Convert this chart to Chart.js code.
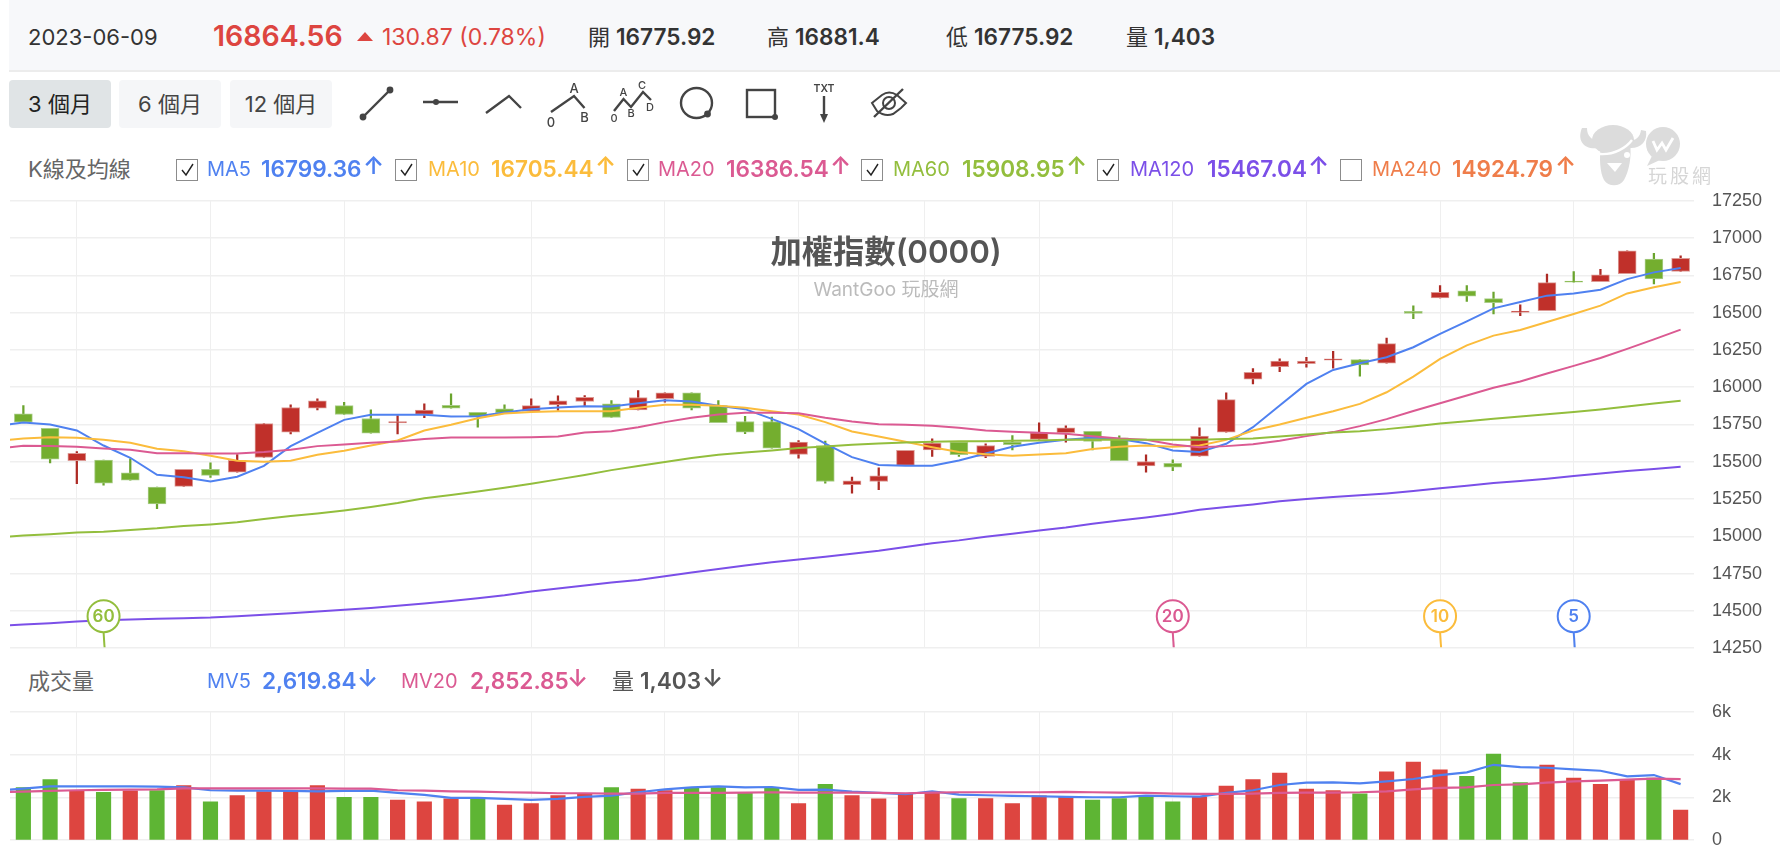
<!DOCTYPE html>
<html lang="zh-Hant">
<head>
<meta charset="UTF-8">
<title>加權指數(0000)</title>
<script src="https://cdn.jsdelivr.net/npm/chart.js"></script>
<style>
    html, body { margin: 0; padding: 0; background: #fff; overflow: hidden; }
    body { width: 1782px; height: 856px; position: relative; font-family: Inter, "Noto Sans CJK TC", sans-serif; color: #333; }
    canvas { position: absolute; display: block; }
    #priceChart { left: 10px; top: 172px; }
    #volumeChart { left: 10px; top: 683px; }
    .t { position: absolute; white-space: nowrap; line-height: 1; transform: translateY(-50%); }
    .b { font-weight: 600; }
    #topBar { position: absolute; left: 9px; top: 0; width: 1771px; height: 70px; background: #f7f8fa; border-bottom: 2px solid #ececec; }
    .btn { position: absolute; top: 80px; width: 102px; height: 48px; border-radius: 4px; background: #f5f6f8; color: #444; font-size: 22px; line-height: 48px; text-align: center; }
    .btn.on { background: #e0e4e6; color: #222; }
    .box { position: absolute; top: 159px; width: 20px; height: 20px; border: 1px solid #8c8c8c; box-sizing: content-box; background: #fff; }
    #overlay { position: absolute; left: 0; top: 0; pointer-events: none; }
    .ttl { position: absolute; left: 886px; transform: translate(-50%, -50%); white-space: nowrap; line-height: 1; }
</style>
</head>
<body>
<div id="topBar"></div>
<div class="t" style="left:28px;top:37px;font-size:22px;">2023-06-09</div>
<div class="t b" style="left:213px;top:36px;font-size:28.5px;color:#dd4540;">16864.56</div>
<div class="t" style="left:382px;top:37px;font-size:23px;color:#dd4540;">130.87 (0.78%)</div>
<div class="t" style="left:588px;top:37px;font-size:22px;">開</div>
<div class="t b" style="left:616px;top:37px;font-size:22.6px;">16775.92</div>
<div class="t" style="left:767px;top:37px;font-size:22px;">高</div>
<div class="t b" style="left:795px;top:37px;font-size:22.6px;">16881.4</div>
<div class="t" style="left:946px;top:37px;font-size:22px;">低</div>
<div class="t b" style="left:974px;top:37px;font-size:22.6px;">16775.92</div>
<div class="t" style="left:1126px;top:37px;font-size:22px;">量</div>
<div class="t b" style="left:1154px;top:37px;font-size:22.6px;">1,403</div>

<div class="btn on" style="left:9px;">3 個月</div>
<div class="btn" style="left:119px;">6 個月</div>
<div class="btn" style="left:230px;">12 個月</div>

<div class="t" style="left:28px;top:169px;font-size:22px;color:#666;">K線及均線</div>
<div class="t" style="left:28px;top:681px;font-size:22px;color:#666;">成交量</div>

<canvas id="priceChart" width="1772" height="505"></canvas>
<canvas id="volumeChart" width="1772" height="186"></canvas>

<div class="ttl b" style="top:253px;font-size:31.3px;color:#555;">加權指數(0000)</div>
<div class="ttl" style="top:289px;font-size:19px;color:#bbb;">WantGoo 玩股網</div>

<svg id="overlay" width="1782" height="856" xmlns="http://www.w3.org/2000/svg">
    <!-- drawing tools -->
    <g fill="none" stroke="#444" stroke-width="2.4">
        <path d="M363 117L390 90"/>
        <path d="M423 102H458"/>
        <path d="M486 113L509 96L521 108"/>
        <path d="M551 112L574 96L584.5 108"/>
        <path d="M614 111L623.5 99L631 107L643 92L651 100"/>
        <ellipse cx="696.5" cy="103" rx="15.5" ry="15"/>
        <rect x="747" y="90" width="28" height="27"/>
        <path d="M824 96V116"/>
        <path d="M874 117L903 89"/>
        <path d="M877 111L872 103L882 95Q889 90 897 95L906 103L901 108L893 114Q885 117 877 111Z" stroke-width="2"/>
        <circle cx="889" cy="103" r="6" stroke-width="2"/>
    </g>
    <g fill="#444">
        <circle cx="363" cy="117" r="3.4"/><circle cx="390" cy="90" r="3.4"/>
        <circle cx="436" cy="102" r="3"/>
        <circle cx="707.5" cy="114" r="3.4"/>
        <circle cx="775" cy="117" r="3"/>
        <path d="M820 114H828L824 123Z"/>
    </g>
    <g fill="#444" font-size="11" text-anchor="middle" font-family="Inter, sans-serif" font-weight="500">
        <text x="574" y="93" font-size="13">A</text><text x="551" y="127" font-size="13">0</text><text x="584.5" y="122" font-size="13">B</text>
        <text x="623.5" y="96">A</text><text x="631" y="117">B</text><text x="642" y="89">C</text><text x="650" y="111">D</text><text x="614" y="122">0</text>
        <text x="824" y="92" font-size="10.5" font-weight="600">TXT</text>
    </g>
    <!-- price change triangle -->
    <path d="M365 32L373 41H357Z" fill="#dd4540"/>
    <!-- site logo -->
    <g fill="#dcdcdc">
        <circle cx="1663" cy="144" r="17"/>
        <path d="M1652 156L1647 166L1660 160Z"/>
        <path d="M1582 128C1576 142 1586 152 1603 147L1603 140C1594 142 1587 138 1587 128Z"/>
        <path d="M1646 131C1648 143 1638 151 1624 147L1625 140C1633 142 1640 139 1641 130Z"/>
        <ellipse cx="1613" cy="140" rx="21" ry="15"/>
        <path d="M1601 145C1599 158 1600 173 1604 180C1608 187 1620 187 1624 180C1629 172 1632 155 1630 145Z"/>
    </g>
    <path d="M1600 154C1614 155 1626 148 1632 140" fill="none" stroke="#fff" stroke-width="2.4"/>
    <circle cx="1627" cy="155" r="3" fill="#fff"/>
    <path d="M1607 163H1622L1615 172Z" fill="#fff"/>
    <path d="M1653 141L1657 150L1662 143L1666 150L1673 138" fill="none" stroke="#fff" stroke-width="2.8"/>
</svg>
<div class="t" style="left:1648px;top:176px;font-size:19px;letter-spacing:3px;color:#d6d6d6;">玩股網</div>

<script>
    // Daily candles, oldest first
    const opens = [15821,15725,15507,15511,15426,15330,15335,15449,15431,15529,15699,15859,15877,15790,15761,15817,15879,15832,15855,15839,15882,15904,15888,15848,15924,15962,15877,15770,15770,15549,15609,15346,15368,15476,15580,15632,15536,15632,15650,15696,15705,15661,15473,15489,15538,15699,16054,16138,16158,16181,16185,16161,16509,16598,16647,16594,16502,16513,16712,16707,16761,16859,16775.92];
    const closes = [15766,15518,15556,15357,15377,15217,15449,15409,15509,15757,15864,15908,15817,15692,15770,15846,15859,15804,15828,15877,15908,15933,15797,15931,15962,15859,15763,15699,15592,15632,15368,15373,15406,15576,15625,15547,15609,15614,15694,15728,15636,15507,15502,15464,15672,15917,16100,16176,16176,16190,16149,16292,16495,16636,16611,16567,16511,16701,16705,16754,16915,16727,16864.56];
    const highs = [15877,15725,15569,15511,15520,15330,15449,15493,15549,15757,15882,15922,15899,15848,15810,15888,15955,15832,15882,15922,15942,15944,15911,15978,15962,15962,15911,15804,15799,15643,15638,15397,15460,15576,15654,15632,15621,15676,15761,15741,15705,15674,15547,15513,15728,15962,16125,16190,16201,16241,16185,16330,16545,16681,16681,16638,16553,16759,16776,16790,16915,16897,16881.4];
    const lows = [15766,15493,15353,15344,15377,15185,15335,15395,15431,15529,15687,15848,15817,15692,15687,15795,15859,15732,15828,15839,15844,15877,15797,15848,15900,15848,15763,15688,15592,15525,15357,15290,15313,15476,15536,15536,15527,15580,15650,15632,15580,15507,15431,15440,15538,15699,16022,16105,16134,16127,16074,16161,16460,16598,16576,16491,16480,16513,16705,16707,16761,16692,16775.92];

    // Moving averages: first value is the day before the visible window
    const ma5 = [15739,15763,15750,15710,15609,15527,15413,15397,15368,15400,15473,15605,15694,15781,15815,15815,15815,15804,15806,15830,15853,15864,15873,15871,15893,15913,15904,15875,15853,15788,15719,15621,15531,15478,15473,15473,15509,15556,15601,15627,15647,15661,15652,15625,15576,15565,15621,15732,15877,16022,16116,16161,16201,16268,16357,16442,16529,16571,16614,16629,16654,16725,16770,16799.36];
    const ma10 = [15638,15656,15665,15661,15647,15627,15587,15571,15540,15507,15500,15507,15547,15574,15609,15643,15710,15748,15792,15824,15833,15839,15839,15839,15862,15882,15882,15875,15862,15839,15817,15766,15703,15670,15634,15598,15565,15551,15540,15549,15558,15585,15600,15609,15600,15609,15647,15710,15750,15795,15839,15888,15966,16071,16190,16281,16346,16384,16437,16491,16547,16629,16670,16705.44];
    const ma20 = [15589,15607,15605,15600,15589,15580,15558,15558,15556,15556,15565,15580,15605,15616,15627,15636,15652,15663,15663,15663,15665,15670,15696,15705,15732,15766,15795,15817,15828,15828,15826,15795,15770,15752,15748,15741,15728,15710,15701,15694,15688,15672,15656,15647,15616,15598,15605,15618,15641,15672,15699,15739,15786,15841,15893,15944,15996,16038,16092,16143,16196,16257,16321,16386.54];
    const ma60 = [14994,15005,15014,15025,15031,15043,15054,15069,15080,15094,15116,15136,15154,15174,15197,15223,15255,15277,15301,15326,15353,15382,15411,15444,15471,15498,15525,15547,15563,15576,15592,15603,15614,15623,15630,15634,15638,15638,15641,15643,15647,15650,15647,15647,15647,15647,15652,15656,15670,15683,15697,15705,15719,15737,15757,15772,15788,15804,15819,15833,15850,15871,15891,15908.95];
    const ma120 = [14398,14409,14418,14429,14438,14442,14447,14451,14456,14465,14474,14485,14496,14507,14520,14534,14549,14567,14585,14605,14630,14650,14670,14690,14708,14732,14757,14781,14804,14826,14844,14864,14884,14904,14929,14953,14973,14998,15018,15040,15060,15085,15107,15127,15150,15179,15196,15214,15235,15250,15264,15275,15288,15304,15322,15339,15357,15371,15386,15404,15422,15438,15451,15467.04];

    // Volume and its averages; volumeUp: 1 = close above the previous close
    const volumes = [2456,2828,2302,2240,2302,2317,2549,1791,2085,2271,2271,2549,2008,2008,1869,1791,1930,2008,1636,1714,2085,2162,2456,2394,2317,2456,2456,2240,2456,1714,2611,2085,1930,2178,2255,1946,1946,1714,2070,2023,1869,1946,2085,1791,2023,2534,2828,3137,2394,2317,2162,3199,3648,3292,2982,4019,2688,3508,2905,2611,2828,2905,1403];
    const volumeUp = [0,0,1,0,1,0,1,0,1,1,1,1,0,0,1,1,1,0,1,1,1,1,0,1,1,0,0,0,0,1,0,1,1,1,1,0,1,1,1,1,0,0,0,0,1,1,1,1,1,1,0,1,1,1,0,0,0,1,1,1,1,0,1];
    const mv5 = [2320,2410,2518,2518,2518,2518,2503,2472,2333,2317,2317,2302,2286,2302,2317,2209,2116,1977,1977,1930,1884,1930,2023,2085,2240,2379,2472,2518,2472,2487,2348,2363,2271,2209,2147,2286,2132,2101,2070,2054,2023,2008,2008,2085,2054,2039,2209,2333,2580,2688,2704,2658,2750,2859,3044,3168,3524,3416,3385,3307,3245,2982,3044,2619.84];
    const mv20 = [2240,2271,2302,2333,2348,2363,2379,2425,2425,2425,2425,2425,2425,2410,2410,2333,2317,2286,2271,2240,2224,2193,2193,2178,2178,2209,2209,2209,2224,2240,2224,2224,2224,2209,2193,2224,2240,2240,2240,2240,2255,2240,2224,2209,2178,2162,2162,2178,2209,2224,2224,2240,2286,2379,2441,2472,2580,2611,2688,2750,2781,2828,2874,2852.85];

    // Axis ticks
    const priceTicks = [14250,14500,14750,15000,15250,15500,15750,16000,16250,16500,16750,17000,17250];
    const volumeTicks = [0,2000,4000,6000];
    const volumeTickLabels = ['0','2k','4k','6k'];
    const dateGridLines = [2,7,12,19,24,29,33.7,38,43,48,53,58];

    // Periods flagged on the price panel, counted back from the last day
    const markerPeriods = [60,20,10,5];
    const markerColors = ['#93be3d','#db5a92','#fbbc3c','#4f81f0'];

    const RED = '#dd4540', GREEN = '#5eb534';
    const days = opens.length;
    const gridColor = '#efefef';

    const toPoints = arr => arr.map((v, i) => ({x: i - 1, y: v}));
    const lineSet = (arr, color, order, width) => ({
        type: 'line',
        data: toPoints(arr),
        borderColor: color,
        borderWidth: width,
        pointRadius: 0,
        tension: 0,
        order: order
    });

    const xAxis = {
        type: 'linear',
        offset: false,
        min: -0.5,
        max: days - 0.5,
        afterBuildTicks: s => { s.ticks = dateGridLines.map(v => ({value: v})); },
        ticks: {display: false},
        grid: {color: gridColor, lineWidth: 1, drawTicks: false, offset: false},
        border: {display: false}
    };

    // Tick padding also reserves room above and below the axis, so the
    // canvases sit about 28px outside the plot area
    function yAxis(min, max, ticks, label) {
        return {
            type: 'linear',
            position: 'right',
            min: min,
            max: max,
            afterBuildTicks: s => { s.ticks = ticks.map(v => ({value: v})); },
            afterFit: s => { s.width = 88; },
            ticks: {
                autoSkip: false,
                padding: 18,
                color: '#555',
                font: {size: 18},
                callback: label
            },
            grid: {color: gridColor, lineWidth: 1.6, drawTicks: false},
            border: {display: false}
        };
    }

    // Round period tags standing on the bottom edge of the price panel
    const markerPlugin = {
        id: 'periodMarkers',
        afterDatasetsDraw(chart) {
            const {ctx, chartArea, scales} = chart;
            const cy = chartArea.bottom - 32;
            markerPeriods.forEach((p, k) => {
                const x = scales.x.getPixelForValue(days - p);
                ctx.save();
                ctx.strokeStyle = markerColors[k];
                ctx.fillStyle = '#fff';
                ctx.lineWidth = 2;
                ctx.beginPath();
                ctx.moveTo(x, cy + 16);
                ctx.lineTo(x + 1, chartArea.bottom - 1);
                ctx.stroke();
                ctx.beginPath();
                ctx.arc(x, cy, 16, 0, Math.PI * 2);
                ctx.fill();
                ctx.stroke();
                ctx.fillStyle = markerColors[k];
                ctx.font = '600 17px Inter, sans-serif';
                ctx.textAlign = 'center';
                ctx.textBaseline = 'middle';
                ctx.fillText(String(p), x, cy + 1);
                ctx.restore();
            });
        }
    };

    const isUp = i => closes[i] >= opens[i];
    const commonOptions = {
        responsive: false,
        animation: false,
        layout: {padding: 0},
        plugins: {legend: {display: false}, tooltip: {enabled: false}}
    };

    new Chart(document.getElementById('priceChart'), {
        type: 'bar',
        data: {
            datasets: [
                lineSet(ma120, '#7b4fe8', 1, 2),
                lineSet(ma60, '#93be3d', 2, 2),
                lineSet(ma20, '#db5a92', 3, 2),
                lineSet(ma10, '#fbbc3c', 4, 2),
                lineSet(ma5, '#4f81f0', 5, 2),
                {
                    data: opens.map((o, i) => ({x: i, y: [o, closes[i]]})),
                    backgroundColor: opens.map((o, i) => isUp(i) ? '#c0302a' : '#74ae2f'),
                    borderColor: opens.map((o, i) => isUp(i) ? '#dc9a95' : '#a9cd88'),
                    borderWidth: 1,
                    borderSkipped: false,
                    barThickness: 18,
                    grouped: false,
                    order: 6
                },
                {
                    data: lows.map((l, i) => ({x: i, y: [l, highs[i]]})),
                    backgroundColor: lows.map((l, i) => isUp(i) ? '#ad2a24' : '#6aa42e'),
                    barThickness: 1.6,
                    grouped: false,
                    order: 7
                }
            ]
        },
        options: {
            ...commonOptions,
            scales: {
                x: xAxis,
                y: yAxis(14250, 17250, priceTicks, v => String(v))
            }
        },
        plugins: [markerPlugin]
    });

    new Chart(document.getElementById('volumeChart'), {
        type: 'bar',
        data: {
            datasets: [
                lineSet(mv20, '#db5a92', 1, 2.2),
                lineSet(mv5, '#4f81f0', 2, 2.2),
                {
                    data: volumes.map((v, i) => ({x: i, y: v})),
                    backgroundColor: volumeUp.map(u => u ? RED : GREEN),
                    barThickness: 14.5,
                    grouped: false,
                    order: 3
                }
            ]
        },
        options: {
            ...commonOptions,
            scales: {
                x: xAxis,
                y: yAxis(0, 6000, volumeTicks, v => volumeTickLabels[volumeTicks.indexOf(v)])
            }
        }
    });

    // Legend rows above each panel
    function addText(str, left, top, size, color, bold) {
        const el = document.createElement('div');
        el.className = bold ? 't b' : 't';
        el.textContent = str;
        el.style.cssText += `left:${left}px;top:${top}px;font-size:${size}px;color:${color};`;
        document.body.appendChild(el);
    }

    const maLegend = [
        ['MA5', '16799.36', '#4f81f0', 176, 207, 261, 363, true],
        ['MA10', '16705.44', '#fbbc3c', 395, 428, 491, 595, true],
        ['MA20', '16386.54', '#db5a92', 627, 658, 726, 830, true],
        ['MA60', '15908.95', '#93be3d', 861, 893, 962, 1066, true],
        ['MA120', '15467.04', '#7b4fe8', 1097, 1130, 1207, 1308, true],
        ['MA240', '14924.79', '#ef7d4a', 1340, 1372, 1452, 1555, false]
    ];
    maLegend.forEach(([name, val, color, boxX, nameX, valX, arrowX, checked]) => {
        const box = document.createElement('div');
        box.className = 'box';
        box.style.left = boxX + 'px';
        if (checked) {
            box.innerHTML = '<svg width="20" height="20"><path d="M5 10L9 15L16 4" fill="none" stroke="#222" stroke-width="1.4"/></svg>';
        }
        document.body.appendChild(box);
        addText(name, nameX, 169, 20, color, false);
        addText(val, valX, 169, 22.6, color, true);
        addText('↑', arrowX, 166, 24, color, true);
    });

    const mvLegend = [
        ['MV5', '2,619.84', '#4f81f0', 207, 262, 357],
        ['MV20', '2,852.85', '#db5a92', 401, 470, 567],
        ['量', '1,403', '#555', 612, 640, 702]
    ];
    mvLegend.forEach(([name, val, color, nameX, valX, arrowX]) => {
        addText(name, nameX, 681, name === '量' ? 22 : 20, color, false);
        addText(val, valX, 681, 22.6, color, true);
        addText('↓', arrowX, 679, 24, color, true);
    });
</script>
</body>
</html>
